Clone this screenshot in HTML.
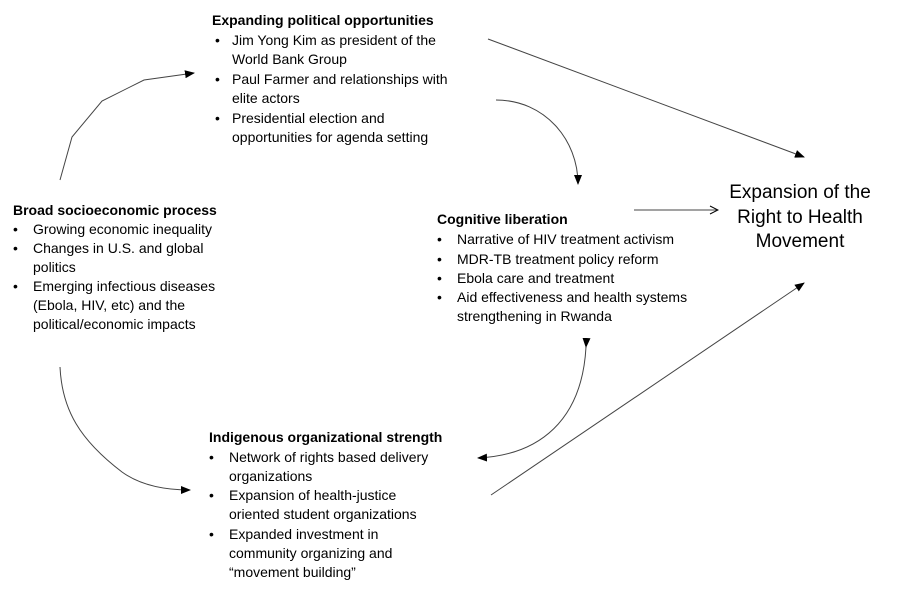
<!DOCTYPE html>
<html><head><meta charset="utf-8"><style>
html,body{margin:0;padding:0;background:#fff;}
body{width:901px;height:593px;position:relative;overflow:hidden;font-family:"Liberation Sans",sans-serif;font-size:14px;color:#000;}
.t{position:absolute;white-space:nowrap;line-height:19px;}
.b{font-weight:bold;}
svg{position:absolute;left:0;top:0;}
</style></head><body>
<svg width="901" height="593" viewBox="0 0 901 593">
<defs>
<marker id="a" markerWidth="10" markerHeight="8" refX="9" refY="4" orient="auto" markerUnits="userSpaceOnUse"><path d="M0,0 L10,4 L0,8 Z" fill="#000"/></marker>
<marker id="o" markerWidth="10" markerHeight="10" refX="9" refY="5" orient="auto" markerUnits="userSpaceOnUse"><path d="M1,1 L9,5 L1,9" fill="none" stroke="#000" stroke-width="1"/></marker>
</defs>
<g fill="none" stroke="#444" stroke-width="1">
<polyline points="60,180 72,137 102,101 144,80 194,73" marker-end="url(#a)"/>
<path d="M60,367 C62,410 80,440 122,472 C140,485 165,490 190,490" marker-end="url(#a)"/>
<line x1="488" y1="39" x2="804" y2="157" marker-end="url(#a)"/>
<path d="M496,100 C545,100 578,140 578,184" marker-end="url(#a)"/>
<line x1="634" y1="210" x2="718" y2="210" marker-end="url(#o)"/>
<path d="M586,347 C582,420 540,455 478,458" marker-start="url(#a)" marker-end="url(#a)"/>
<line x1="491" y1="495" x2="804" y2="283" marker-end="url(#a)"/>
</g>
</svg>

<div class="t b" style="left:212px;top:11px">Expanding political opportunities</div>
<div class="t" style="left:215px;top:31px">•</div>
<div class="t" style="left:232px;top:31px">Jim Yong Kim as president of the<br>World Bank Group</div>
<div class="t" style="left:215px;top:70px">•</div>
<div class="t" style="left:232px;top:70px">Paul Farmer and relationships with<br>elite actors</div>
<div class="t" style="left:215px;top:109px">•</div>
<div class="t" style="left:232px;top:109px">Presidential election and<br>opportunities for agenda setting</div>

<div class="t b" style="left:13px;top:201px">Broad socioeconomic process</div>
<div class="t" style="left:13px;top:220px">•</div>
<div class="t" style="left:33px;top:220px">Growing economic inequality</div>
<div class="t" style="left:13px;top:239px">•</div>
<div class="t" style="left:33px;top:239px">Changes in U.S. and global<br>politics</div>
<div class="t" style="left:13px;top:277px">•</div>
<div class="t" style="left:33px;top:277px">Emerging infectious diseases<br>(Ebola, HIV, etc) and the<br>political/economic impacts</div>

<div class="t b" style="left:437px;top:210px">Cognitive liberation</div>
<div class="t" style="left:437px;top:230px">•</div>
<div class="t" style="left:457px;top:230px">Narrative of HIV treatment activism</div>
<div class="t" style="left:437px;top:250px">•</div>
<div class="t" style="left:457px;top:250px">MDR-TB treatment policy reform</div>
<div class="t" style="left:437px;top:269px">•</div>
<div class="t" style="left:457px;top:269px">Ebola care and treatment</div>
<div class="t" style="left:437px;top:288px">•</div>
<div class="t" style="left:457px;top:288px">Aid effectiveness and health systems<br>strengthening in Rwanda</div>

<div class="t b" style="left:209px;top:428px">Indigenous organizational strength</div>
<div class="t" style="left:209px;top:448px">•</div>
<div class="t" style="left:229px;top:448px">Network of rights based delivery<br>organizations</div>
<div class="t" style="left:209px;top:486px">•</div>
<div class="t" style="left:229px;top:486px">Expansion of health-justice<br>oriented student organizations</div>
<div class="t" style="left:209px;top:525px">•</div>
<div class="t" style="left:229px;top:525px">Expanded investment in<br>community organizing and<br>“movement building”</div>

<div class="t" style="left:700px;top:181px;width:200px;text-align:center;font-size:19px;line-height:24.5px">Expansion of the<br>Right to Health<br>Movement</div>
</body></html>
